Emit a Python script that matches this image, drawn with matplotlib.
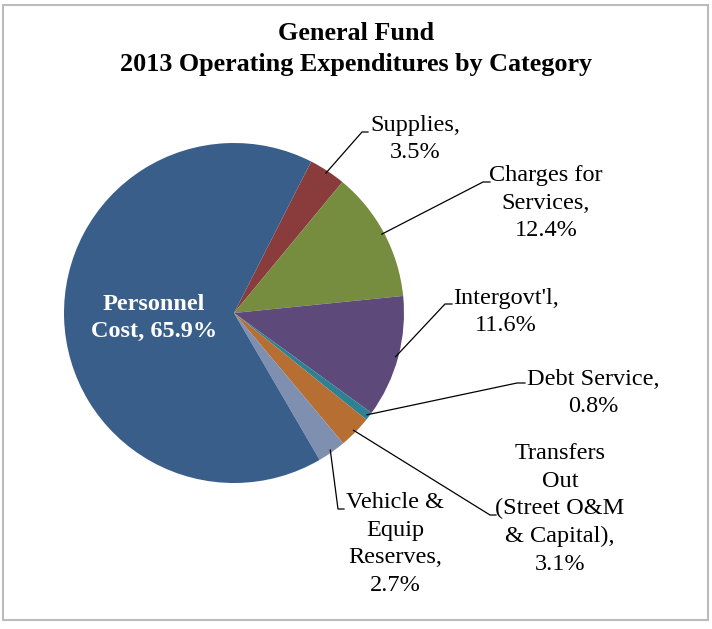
import numpy as np
import matplotlib
matplotlib.use("Agg")
import matplotlib.pyplot as plt
from matplotlib.patches import Rectangle

plt.rcParams["font.family"] = ["Liberation Serif", "DejaVu Serif"]

# General Fund 2013 operating expenditures (% of total)
categories = ["Supplies", "Charges for\nServices", "Intergovt'l", "Debt Service",
              "Transfers\nOut\n(Street O&M\n& Capital)", "Vehicle &\nEquip\nReserves",
              "Personnel\nCost"]
shares = [3.5, 12.4, 11.6, 0.8, 3.1, 2.7, 65.9]
colors = ["#8A3B3B", "#768C3F", "#5E4A7A", "#2C8193", "#B76E33", "#7E8FB0", "#3A5E8A"]

W, H = 712, 629
CX, CY, R = 234, 313, 170  # pie centre and radius in pixels

fig = plt.figure(figsize=(W / 100, H / 100), dpi=100)
ax = fig.add_axes([0, 0, 1, 1])


def px(x, y):
    """Pixel position -> data coordinates (pie radius = 1)."""
    return (x - CX) / R, (CY - y) / R


start = 63
wedges, _ = ax.pie(shares, colors=colors, startangle=start, counterclock=False,
                   radius=1, center=(0, 0), wedgeprops=dict(linewidth=0))
ax.set_xlim(-CX / R, (W - CX) / R)
ax.set_ylim(-(H - CY) / R, CY / R)
ax.set_aspect("auto")
ax.axis("off")

# label text centres and leader elbows / ends (pixels)
label_pos = [(415, 139), (546, 203), (506, 312), (593, 393), (560, 509), (395, 544)]
elbows = [((362, 132), (368, 132)), ((483, 182), (490, 182)), ((445, 304), (452, 304)),
          ((517, 383), (525, 383)), ((490, 515), (496, 515)), ((338, 509), (344, 509))]

cum = 0.0
for i, (cat, val) in enumerate(zip(categories, shares)):
    mid = np.deg2rad(start - 360 * (cum + val / 2) / 100)
    cum += val
    if i == len(categories) - 1:
        tx, ty = px(154, 318)
        ax.text(tx, ty, f"{cat}, {val:.1f}%", ha="center", va="center", color="white",
                fontsize=17.5, fontweight="bold", linespacing=1.4)
        continue
    sx, sy = 0.985 * np.cos(mid), 0.985 * np.sin(mid)
    (ex, ey), (hx, hy) = elbows[i]
    e = px(ex, ey)
    h = px(hx, hy)
    ax.plot([sx, e[0], h[0]], [sy, e[1], h[1]], color="black", lw=0.9,
            solid_joinstyle="miter")
    tx, ty = px(*label_pos[i])
    ax.text(tx, ty, f"{cat},\n{val:.1f}%", ha="center", va="center", fontsize=17.5,
            multialignment="center", linespacing=1.4)

fig.text(0.5, 1 - 49 / H, "General Fund\n2013 Operating Expenditures by Category",
         ha="center", va="center", fontsize=18.8, fontweight="bold", linespacing=1.45)

fig.patches.append(Rectangle((3 / W, 1 - 620 / H), 705 / W, 615 / H,
                             transform=fig.transFigure, fill=False,
                             edgecolor="#BBBBBB", linewidth=1.5))

fig.savefig("out.png", dpi=100, facecolor="white")
